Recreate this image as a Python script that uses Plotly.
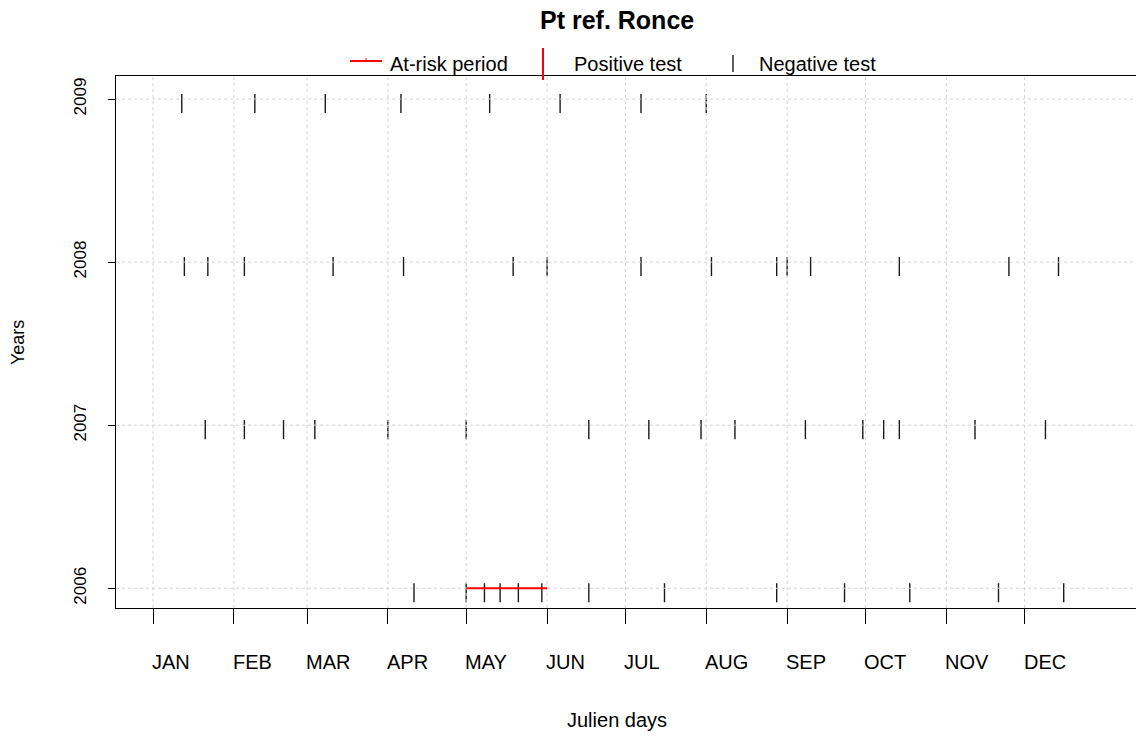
import plotly.graph_objects as go

# ---------------- data ----------------
years = [2006, 2007, 2008, 2009]
year_labels = ["2006", "2007", "2008", "2009"]

# negative tests (julian day of the year), one list per year
neg_2006 = [101, 121, 128, 134, 141, 150, 168, 197, 240, 266, 291, 325, 350]
neg_2007 = [21, 36, 51, 63, 91, 121, 168, 191, 211, 224, 251, 273, 281, 287, 316, 343]
neg_2008 = [13, 22, 36, 70, 97, 139, 152, 188, 215, 240, 244, 253, 287, 329, 348]
neg_2009 = [12, 40, 67, 96, 130, 157, 188, 213]

# at-risk periods
risk_year = [2006]
risk_start = [121]
risk_end = [152]

month_starts = [1, 32, 60, 91, 121, 152, 182, 213, 244, 274, 305, 335]
month_labels = ["JAN", "FEB", "MAR", "APR", "MAY", "JUN",
                "JUL", "AUG", "SEP", "OCT", "NOV", "DEC"]

FONT = "Liberation Sans, Arial, sans-serif"

# ---------------- layout geometry (pixels) ----------------
W, H = 1136, 736
L, T, B = 116, 76, 128
PW = W - L
PH = H - T - B
BOTTOM = H - B


def px_x(p):
    return (p - L) / PW


def px_y(p):
    return (BOTTOM - p) / PH


# ---------------- figure ----------------
neg_by_year = {2006: neg_2006, 2007: neg_2007, 2008: neg_2008, 2009: neg_2009}

xs, ys = [], []
for yr in years:
    for d in neg_by_year[yr]:
        xs += [d, d, None]
        ys += [yr - 0.086, yr + 0.031, None]

fig = go.Figure()
fig.add_trace(go.Scatter(x=xs, y=ys, mode="lines",
                         line=dict(color="#1a1a1a", width=1.4),
                         showlegend=False, hoverinfo="skip"))

shapes = []
# grid drawn on top of the tick marks (as in R's grid())
for m in month_starts:
    shapes.append(dict(type="line", xref="x", yref="paper", x0=m, x1=m, y0=0, y1=1,
                       line=dict(color="#d3d3d3", width=1, dash="dot"), layer="above"))
for yr in years:
    shapes.append(dict(type="line", xref="paper", yref="y", x0=0, x1=1, y0=yr, y1=yr,
                       line=dict(color="#d3d3d3", width=1, dash="dot"), layer="above"))
# at-risk periods
for yr, s, e in zip(risk_year, risk_start, risk_end):
    shapes.append(dict(type="line", xref="x", yref="y", x0=s, x1=e, y0=yr, y1=yr,
                       line=dict(color="#ff0000", width=2), layer="above"))

# legend (manual, R-style)
shapes += [
    dict(type="line", xref="paper", yref="paper", x0=px_x(350), x1=px_x(382),
         y0=px_y(61), y1=px_y(61), line=dict(color="#ff0000", width=2)),
    dict(type="line", xref="paper", yref="paper", x0=px_x(366), x1=px_x(366),
         y0=px_y(58), y1=px_y(61), line=dict(color="#ff0000", width=1)),
    dict(type="line", xref="paper", yref="paper", x0=px_x(543), x1=px_x(543),
         y0=px_y(48), y1=px_y(80), line=dict(color="#ff0000", width=2)),
    dict(type="line", xref="paper", yref="paper", x0=px_x(733), x1=px_x(733),
         y0=px_y(55), y1=px_y(72), line=dict(color="#1a1a1a", width=1.4)),
]

annotations = []
for txt, xp in [("At-risk period", 388), ("Positive test", 572), ("Negative test", 757)]:
    annotations.append(dict(text=txt, xref="paper", yref="paper", x=px_x(xp), y=px_y(64),
                            xanchor="left", yanchor="middle", showarrow=False,
                            font=dict(family=FONT, size=20, color="#000")))

# month labels, left aligned at the month ticks
for m, lab in zip(month_starts, month_labels):
    annotations.append(dict(text=lab, xref="x", yref="paper", x=m, y=px_y(662),
                            xanchor="left", yanchor="middle", showarrow=False, xshift=-3,
                            font=dict(family=FONT, size=20, color="#000")))

annotations += [
    dict(text="<b>Pt ref. Ronce</b>", xref="paper", yref="paper", x=px_x(617), y=px_y(20),
         xanchor="center", yanchor="middle", showarrow=False,
         font=dict(family=FONT, size=25, color="#000")),
    dict(text="Julien days", xref="paper", yref="paper", x=px_x(617), y=px_y(720),
         xanchor="center", yanchor="middle", showarrow=False,
         font=dict(family=FONT, size=20, color="#000")),
    dict(text="Years", xref="paper", yref="paper", x=px_x(18), y=px_y(343),
         xanchor="center", yanchor="middle", showarrow=False, textangle=-90,
         font=dict(family=FONT, size=18, color="#000")),
]

fig.update_layout(
    width=W, height=H,
    margin=dict(l=L, r=0, t=T, b=B, pad=0),
    paper_bgcolor="white", plot_bgcolor="white",
    shapes=shapes, annotations=annotations,
    showlegend=False,
    font=dict(family=FONT, color="#000"),
)
fig.update_xaxes(range=[-13.2, 377.7], tickvals=month_starts, showticklabels=False,
                 ticks="outside", ticklen=15, tickwidth=1.3, tickcolor="#000",
                 showgrid=False, zeroline=False, showline=True, linecolor="#000",
                 linewidth=1.3, mirror=True)
fig.update_yaxes(range=[2005.879, 2009.141], tickvals=years, ticktext=year_labels,
                 tickangle=-90, ticks="outside", ticklen=7, tickwidth=1.3, tickcolor="#000",
                 tickfont=dict(family=FONT, size=17, color="#000"),
                 ticklabelstandoff=15,
                 showgrid=False, zeroline=False, showline=True, linecolor="#000",
                 linewidth=1.3, mirror=False)

fig.write_html("out.html")
